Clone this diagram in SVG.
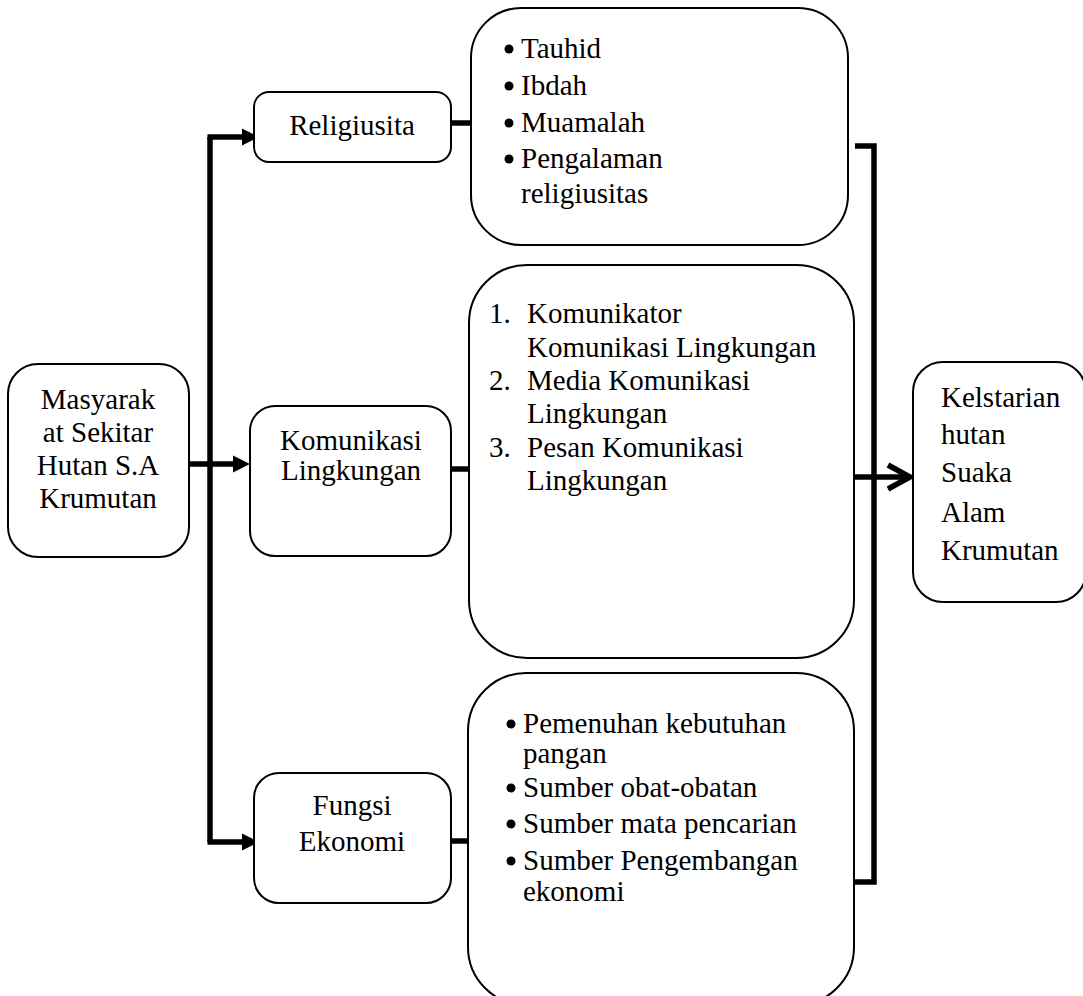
<svg xmlns="http://www.w3.org/2000/svg" width="1083" height="996" viewBox="0 0 1083 996">
<style>
.box{fill:#fff;stroke:#000;stroke-width:2}
text{font-family:"Liberation Serif","Times New Roman",Times,serif;font-size:29px;fill:#000}
.c{text-anchor:middle}
.ln{stroke:#000;stroke-width:5.5;fill:none}
</style>
<defs>
<path id="ah" d="M-17,-8.5 L0,0 L-17,8.5 Z" fill="#000"/>
</defs>
<rect width="1083" height="996" fill="#fff"/>

<g id="connectors">
<path class="ln" d="M210,137 L210,842"/>
<path class="ln" d="M207.5,137 L244,137"/>
<use href="#ah" x="259" y="137"/>
<path class="ln" d="M207.5,842 L244,842"/>
<use href="#ah" x="259" y="842"/>
<path class="ln" d="M185,464 L236,464"/>
<use href="#ah" x="250" y="464"/>
<path class="ln" d="M451,123 L471,123"/>
<path class="ln" d="M451,469 L470,469"/>
<path class="ln" d="M451,841 L470,841"/>
<path class="ln" d="M855,146 L874,146 L874,882 L855,882"/>
<path class="ln" d="M855,477 L910,477"/>
<path class="ln" d="M888,465 L910,477 L888,489"/>
</g>

<g id="masyarakat">
<rect class="box" x="8" y="364" width="181" height="193" rx="30"/>
<text class="c" x="98" y="409">Masyarak</text>
<text class="c" x="98" y="442">at Sekitar</text>
<text class="c" x="98" y="475">Hutan S.A</text>
<text class="c" x="98" y="508">Krumutan</text>
</g>

<g id="religiusita">
<rect class="box" x="254" y="92" width="197" height="70" rx="15"/>
<text class="c" x="352" y="135">Religiusita</text>
</g>

<g id="komunikasi">
<rect class="box" x="250" y="406" width="201" height="150" rx="25"/>
<text class="c" x="351" y="450">Komunikasi</text>
<text class="c" x="351" y="480">Lingkungan</text>
</g>

<g id="fungsi">
<rect class="box" x="254" y="773" width="197" height="130" rx="25"/>
<text class="c" x="352" y="815">Fungsi</text>
<text class="c" x="352" y="851">Ekonomi</text>
</g>

<g id="religiusita-list">
<rect class="box" x="471" y="8" width="377" height="237" rx="50"/>
<circle cx="509" cy="49" r="4.5"/>
<text x="521" y="58">Tauhid</text>
<circle cx="509" cy="86" r="4.5"/>
<text x="521" y="95">Ibdah</text>
<circle cx="509" cy="123" r="4.5"/>
<text x="521" y="132">Muamalah</text>
<circle cx="509" cy="159" r="4.5"/>
<text x="521" y="168">Pengalaman</text>
<text x="521" y="203">religiusitas</text>
</g>

<g id="komunikasi-list">
<rect class="box" x="469" y="265" width="385" height="393" rx="58"/>
<text x="489" y="323">1.</text>
<text x="527" y="323">Komunikator</text>
<text x="527" y="357">Komunikasi Lingkungan</text>
<text x="489" y="390">2.</text>
<text x="527" y="390">Media Komunikasi</text>
<text x="527" y="423">Lingkungan</text>
<text x="489" y="457">3.</text>
<text x="527" y="457">Pesan Komunikasi</text>
<text x="527" y="490">Lingkungan</text>
</g>

<g id="ekonomi-list">
<rect class="box" x="468" y="673" width="386" height="332" rx="58"/>
<circle cx="511" cy="724" r="4.5"/>
<text x="523" y="733">Pemenuhan kebutuhan</text>
<text x="523" y="763">pangan</text>
<circle cx="511" cy="788" r="4.5"/>
<text x="523" y="797">Sumber obat-obatan</text>
<circle cx="511" cy="824" r="4.5"/>
<text x="523" y="833">Sumber mata pencarian</text>
<circle cx="511" cy="861" r="4.5"/>
<text x="523" y="870">Sumber Pengembangan</text>
<text x="523" y="901">ekonomi</text>
</g>

<g id="kelestarian">
<rect class="box" x="913" y="362" width="173" height="240" rx="30"/>
<text x="941" y="407">Kelstarian</text>
<text x="941" y="444">hutan</text>
<text x="941" y="482">Suaka</text>
<text x="941" y="522">Alam</text>
<text x="941" y="560">Krumutan</text>
</g>
</svg>
